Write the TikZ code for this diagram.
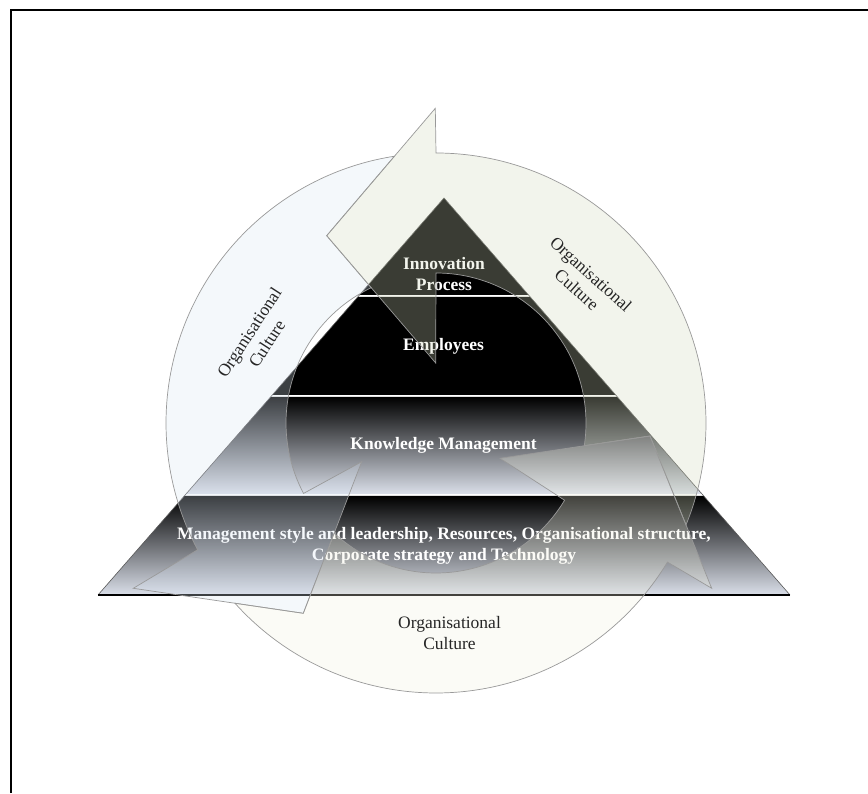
\documentclass[tikz,border=0pt]{standalone}
\usepackage{fontspec}
\setmainfont{Liberation Serif}
\definecolor{arrL}{RGB}{219,230,244}
\definecolor{arrR}{RGB}{209,216,187}
\definecolor{arrB}{RGB}{241,241,223}
\definecolor{pyrlight}{RGB}{218,223,233}
\tikzset{
  arrowshape/.style={draw=black!40, line width=0.7pt, fill opacity=0.28},
  bandtext/.style={text=white, font=\bfseries\fontsize{17.5}{21}\selectfont, align=center, inner sep=0pt},
  culture/.style={text=black!85, font=\fontsize{17.5}{21}\selectfont, align=center, inner sep=0pt},
  pyredge/.style={draw=black!65, line width=0.6pt},
}
\begin{document}
\begin{tikzpicture}[x=1pt,y=1pt]
\useasboundingbox (0,0) rectangle (868,793);
\fill[white] (0,0) rectangle (868,793);
% page frame
\draw[line width=1.5pt] (11,0) -- (11,783) -- (868,783);

% pyramid bands
\fill[black] (444,595) -- (359.5,498) -- (528.5,498) -- cycle;
\fill[black] (357.7,496) -- (530.3,496) -- (615.7,398) -- (272.3,398) -- cycle;
\shade[top color=black, bottom color=pyrlight] (270.6,396) -- (617.4,396) -- (702,299) -- (186,299) -- cycle;
\shade[top color=black, bottom color=pyrlight] (184.3,297) -- (703.7,297) -- (790,198) -- (98,198) -- cycle;
\draw[pyredge] (98,198) -- (444,595) -- (790,198);
\draw[black, line width=1.3pt] (98,198) -- (790,198);

% pyramid texts
\node[bandtext] (innov) at (444,519) {Innovation\\Process};
\node[bandtext] (empl) at (443.5,446.3) {Employees};
\node[bandtext] (km) at (443.5,348) {Knowledge Management};
\node[bandtext] (found) at (444,247.5) {Management style and leadership, Resources, Organisational structure,\\Corporate strategy and Technology};

% circular arrows
\begin{scope}[shift={(436,370)}]
  % left arrow
  \path[arrowshape, fill=arrL] (98.85:270) arc[start angle=98.85, end angle=208, radius=270]
     -- (-302.7,-165.3) -- (-132.7,-190.3) -- (-74.3,-38.7)
     -- (208:150) arc[start angle=208, end angle=115.58, radius=150]
     -- (-109.3,187.3) -- cycle;
  % bottom arrow
  \path[arrowshape, fill=arrB] (221.88:270) arc[start angle=221.88, end angle=329, radius=270]
     -- (275.7,-165.3) -- (214,-13) -- (64,-35.3)
     -- (329:150) arc[start angle=329, end angle=227.25, radius=150]
     -- (-132.7,-190.3) -- cycle;
  % right arrow
  \path[arrowshape, fill=arrR] (-22.18:270) arc[start angle=-22.18, end angle=90, radius=270]
     -- (-0.7,314.7) -- (-109.3,187.3) -- (-0.3,60)
     -- (90:150) arc[start angle=90, end angle=-8.73, radius=150]
     -- (214,-13) -- cycle;
\end{scope}

% culture labels
\node[culture, rotate=57] (ocleft) at (258,455) {Organisational\\Culture};
\node[culture, rotate=-42] (ocright) at (584,511) {Organisational\\Culture};
\node[culture] (ocbottom) at (449.5,160) {Organisational\\Culture};
\end{tikzpicture}
\end{document}
